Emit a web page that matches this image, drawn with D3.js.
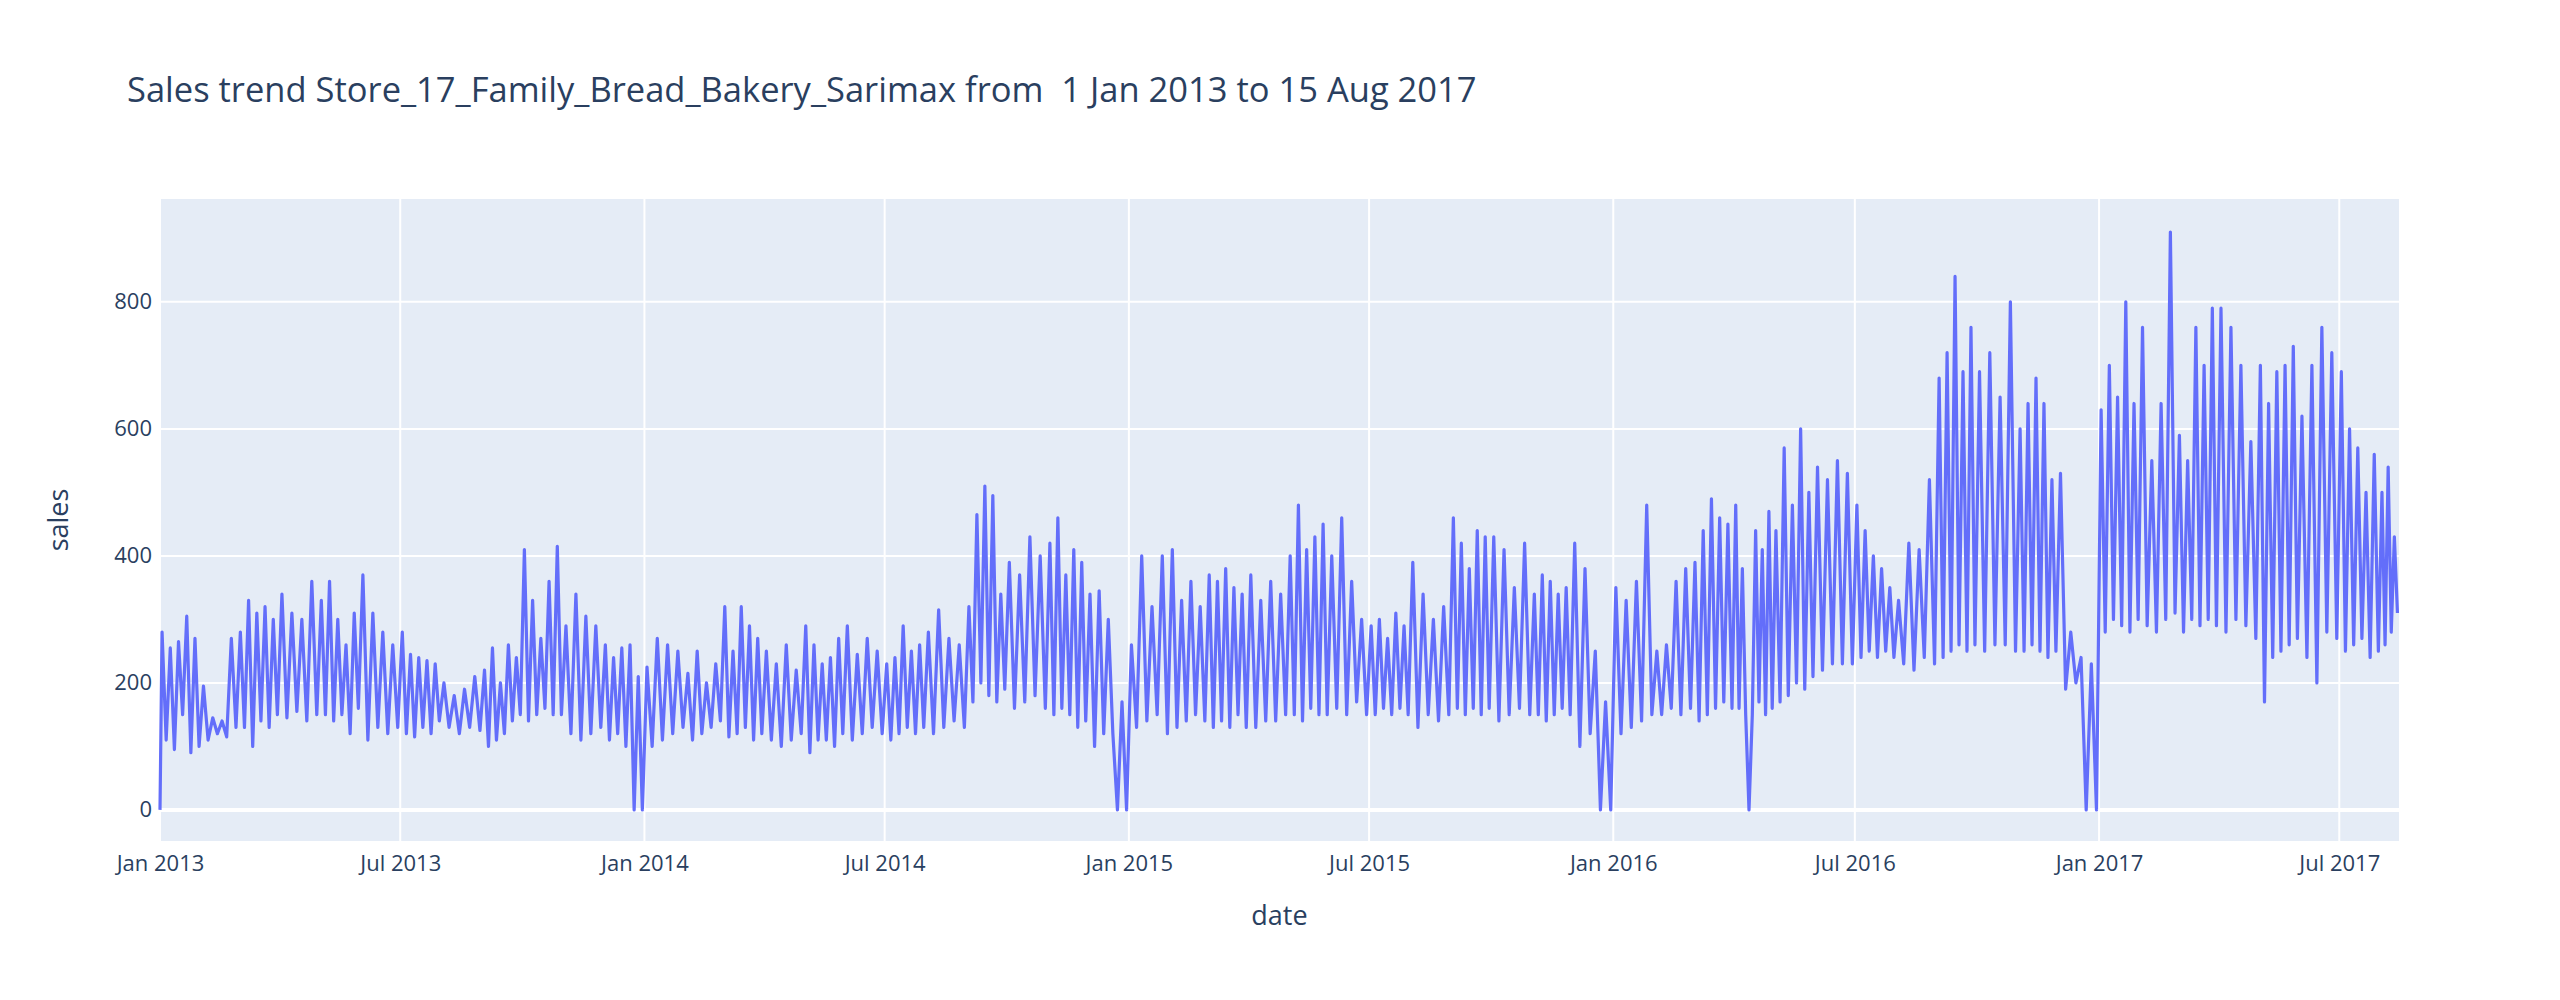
<!DOCTYPE html>
<html><head><meta charset="utf-8">
<script src="https://cdn.jsdelivr.net/npm/d3@7"></script>
<style>body{margin:0;background:#fff;font-family:"Open Sans",sans-serif}</style>
</head><body><svg id="c" width="2560" height="1000"></svg>
<script>
// Monthly samples (peak/trough pairs per week), Jan 2013 .. Aug 2017
const months = [
"2013-01","2013-02","2013-03","2013-04","2013-05","2013-06","2013-07","2013-08","2013-09","2013-10","2013-11","2013-12",
"2014-01","2014-02","2014-03","2014-04","2014-05","2014-06","2014-07","2014-08","2014-09","2014-10","2014-11","2014-12",
"2015-01","2015-02","2015-03","2015-04","2015-05","2015-06","2015-07","2015-08","2015-09","2015-10","2015-11","2015-12",
"2016-01","2016-02","2016-03","2016-04","2016-05","2016-06","2016-07","2016-08","2016-09","2016-10","2016-11","2016-12",
"2017-01","2017-02","2017-03","2017-04","2017-05","2017-06","2017-07","2017-08"];
const sales = [
[280,110,255,95,265,150,305,90,270,100],
[195,110,145,120,140,115,270,130],
[280,130,330,100,310,140,320,130,300,150],
[340,145,310,155,300,140,360,150],
[330,150,360,140,300,150,260,120,310,160],
[370,110,310,130,280,120,260,130],
[280,120,245,115,240,130,235,120,230,140],
[200,130,180,120,190,130,210,125],
[220,100,255,110,200,120,260,140,240,150],
[410,140,330,150,270,160,360,150,415,150],
[290,120,340,110,305,120,290,130],
[260,110,240,120,255,100,260,0,210,0],
[225,100,270,110,260,120,250,130],
[215,110,250,120,200,130,230,140],
[320,115,250,120,320,130,290,110,270,120],
[250,110,230,100,260,110,220,120],
[290,90,260,110,230,110,240,100,270,120],
[290,110,245,120,270,130,250,120],
[230,110,240,120,290,130,250,120,260,130],
[280,120,315,130,270,140,260,130],
[320,170,465,200,510,180,495,170,340,190],
[390,160,370,170,430,180,400,160],
[420,150,460,160,370,150,410,130,390,140],
[340,100,345,120,300,120,0,170,0],
[260,130,400,140,320,150,400,120],
[410,130,330,140,360,150,320,140],
[370,130,360,140,380,130,350,150,340,130],
[370,130,330,140,360,140,340,150],
[400,150,480,140,410,160,430,150,450,150],
[400,160,460,150,360,170,300,150],
[290,150,300,160,270,150,310,160,290,150],
[390,130,340,150,300,140,320,150],
[460,160,420,150,380,160,440,150,430,160],
[430,140,410,150,350,160,420,150],
[340,150,370,140,360,150,340,160,350,150],
[420,100,380,120,250,0,170,0],
[350,120,330,130,360,140,480,150],
[250,150,260,160,360,150,380,160],
[390,140,440,150,490,160,460,170,450,160],
[480,160,380,150,0,150,440,170,410,150,470,160],
[440,170,570,180,480,200,600,190,500,210],
[540,220,520,230,550,230,530,230],
[480,240,440,250,400,240,380,250,350,240],
[330,230,420,220,410,240,520,230],
[680,240,720,250,840,260,690,250,760,260],
[690,250,720,260,650,260,800,250],
[600,250,640,260,680,250,640,240,520,250],
[530,190,280,200,240,0,230,0],
[630,280,700,300,650,290,800,280,640,300],
[760,290,550,280,640,300,910,310],
[590,280,550,300,760,290,700,300,790,290],
[790,280,760,300,700,290,580,270],
[700,170,640,240,690,250,700,260,730,270],
[620,240,700,200,760,280,720,270],
[690,250,600,260,570,270,500,240,560,250],
[500,260,540,280,430,310]
];
const yTicks = [0,200,400,600,800];
const xTicks = ["2013-01-01","2013-07-01","2014-01-01","2014-07-01","2015-01-01","2015-07-01","2016-01-01","2016-07-01","2017-01-01","2017-07-01"];
const startDate = "2013-01-01", endDate = "2017-08-15";

const parse = d3.timeParse("%Y-%m-%d");
const pts = [{date: parse(startDate), value: 0}];
months.forEach((m, i) => {
  const s = parse(m + "-01"), e = (i === months.length - 1) ? parse(endDate) : d3.timeMonth.offset(s, 1);
  const vals = sales[i];
  vals.forEach((v, j) => pts.push({date: new Date(+s + (+e - +s) * (j + 0.5) / vals.length), value: v}));
});

const svg = d3.select("#c");
const L = 160, R = 2399, T = 199, B = 841;
const x = d3.scaleTime().domain([parse(startDate), parse(endDate)]).range([L, R]);
const y = d3.scaleLinear().domain([-49, 962]).range([B, T]);

svg.append("rect").attr("x", L).attr("y", T).attr("width", R - L).attr("height", B - T).attr("fill", "#e5ecf6");
svg.append("g").selectAll("line").data(xTicks).join("line")
  .attr("x1", d => x(parse(d))).attr("x2", d => x(parse(d))).attr("y1", T).attr("y2", B)
  .attr("stroke", "#fff").attr("stroke-width", 2);
svg.append("g").selectAll("line").data(yTicks).join("line")
  .attr("x1", L).attr("x2", R).attr("y1", d => y(d)).attr("y2", d => y(d))
  .attr("stroke", "#fff").attr("stroke-width", d => d === 0 ? 4 : 2);

const gx = svg.append("g").attr("transform", `translate(0,${B})`)
  .call(d3.axisBottom(x).tickValues(xTicks.map(parse)).tickFormat(d3.timeFormat("%b %Y")).tickSize(0).tickPadding(14));
const gy = svg.append("g").attr("transform", `translate(${L},0)`)
  .call(d3.axisLeft(y).tickValues(yTicks).tickSize(0).tickPadding(8));
[gx, gy].forEach(g => { g.select(".domain").remove();
  g.selectAll("text").attr("font-family", "Open Sans").attr("font-size", 22).attr("fill", "#2a3f5f"); });

svg.append("path").datum(pts)
  .attr("d", d3.line().x(d => x(d.date)).y(d => y(d.value)))
  .attr("fill", "none").attr("stroke", "#636efa").attr("stroke-width", 3.2).attr("stroke-linejoin", "round");

svg.append("text").attr("x", 127).attr("y", 102).text("Sales trend Store_17_Family_Bread_Bakery_Sarimax from  1 Jan 2013 to 15 Aug 2017")
  .attr("font-size", 34.5).attr("fill", "#2a3f5f").attr("xml:space","preserve").style("white-space","pre");
svg.append("text").attr("x", (L + R) / 2).attr("y", 925).attr("text-anchor", "middle").text("date")
  .attr("font-size", 27).attr("fill", "#2a3f5f");
svg.append("text").attr("transform", `translate(68,${(T + B) / 2}) rotate(-90)`).attr("text-anchor", "middle").text("sales")
  .attr("font-size", 27).attr("fill", "#2a3f5f");
</script></body></html>
